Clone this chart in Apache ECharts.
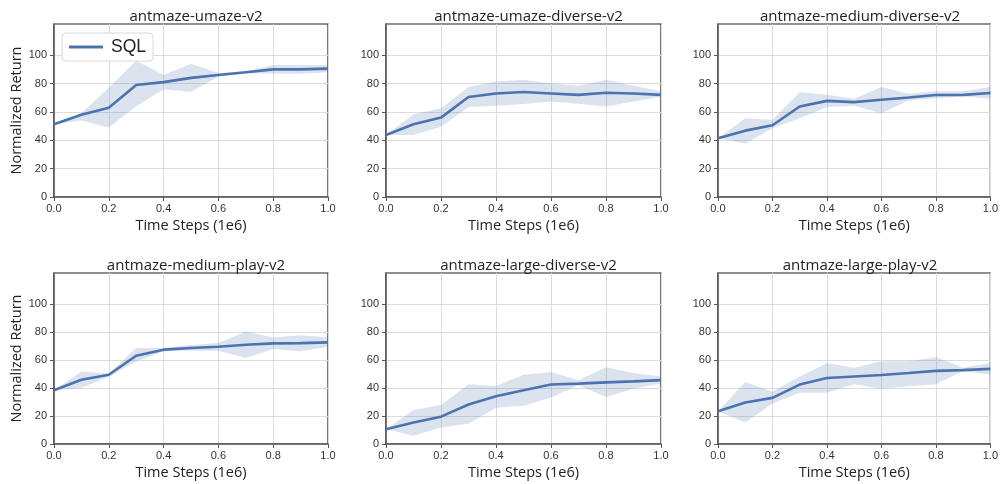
<!DOCTYPE html>
<html>
<head>
<meta charset="utf-8">
<script src="https://cdn.jsdelivr.net/npm/echarts@6/dist/echarts.min.js"></script>
<style>
html,body{margin:0;padding:0;background:#fff;}
#c{width:1001px;height:484px;}
</style>
</head>
<body>
<div id="c"></div>
<script>
// ---- data ----
const steps = [0, 0.1, 0.2, 0.3, 0.4, 0.5, 0.6, 0.7, 0.8, 0.9, 1.0];
const titles = ['antmaze-umaze-v2', 'antmaze-umaze-diverse-v2', 'antmaze-medium-diverse-v2',
                'antmaze-medium-play-v2', 'antmaze-large-diverse-v2', 'antmaze-large-play-v2'];
const seriesName = 'SQL';
const yTicks = [0, 20, 40, 60, 80, 100];

const umazeMean  = [51.3, 58, 63, 79, 81, 84, 86, 88, 90, 90, 90.5];
const umazeUpper = [51.3, 59, 77, 96, 86, 94, 87.5, 88.5, 93, 93, 93];
const umazeLower = [51.3, 54, 49, 64, 76, 74, 85, 87.5, 87, 87, 88];

const umazeDivMean  = [43.7, 51.3, 56, 70.5, 73, 74, 73, 72, 73.5, 73, 72];
const umazeDivUpper = [43.7, 58.4, 62.6, 77.5, 81.5, 82.7, 80, 78.5, 82.7, 78.5, 74.5];
const umazeDivLower = [43.7, 43.7, 49.6, 63.4, 64.3, 65.5, 67.4, 65.7, 63.8, 67.4, 70.5];

const medDivMean  = [41.4, 46.8, 50.6, 63.8, 67.8, 66.9, 68.6, 70.2, 71.9, 72, 73.3];
const medDivUpper = [41.4, 55.5, 54.4, 73.8, 72.1, 69.3, 77.5, 72.8, 74.5, 74.5, 77.5];
const medDivLower = [41.4, 37.8, 48.5, 55.5, 63.4, 64.3, 59.1, 68.1, 69.7, 70.9, 69.3];

const medPlayMean  = [38.4, 45.9, 49.4, 63, 67.3, 68.5, 69.4, 70.8, 71.8, 72, 72.5];
const medPlayUpper = [38.4, 51.8, 50.1, 68.5, 68.5, 70.6, 72, 80.2, 76, 77.6, 76];
const medPlayLower = [38.4, 40, 48.2, 58.8, 66.1, 66.6, 66.6, 61.4, 67.8, 66.1, 69.4];

const largeDivMean  = [10.6, 15.3, 19.5, 28.2, 34.1, 38.4, 42.4, 43.1, 44, 44.7, 45.6];
const largeDivUpper = [10.6, 24.2, 27.8, 42.6, 41.4, 49.4, 51.3, 45.4, 54.8, 50.6, 48.2];
const largeDivLower = [10.6, 5.9, 11.8, 14.4, 25.9, 27.3, 33.2, 41.9, 33.6, 39.5, 43.1];

const largePlayMean  = [23.3, 29.6, 32.9, 42.4, 47.1, 48.2, 49.2, 50.6, 52.2, 52.7, 53.6];
const largePlayUpper = [23.3, 44.2, 37.2, 48.2, 57.6, 54.4, 59.1, 59.1, 61.9, 54.4, 57.6];
const largePlayLower = [23.3, 15.3, 28.9, 36.5, 36.5, 42.6, 39.5, 41.2, 42.6, 52, 49.4];

const means  = [umazeMean, umazeDivMean, medDivMean, medPlayMean, largeDivMean, largePlayMean];
const uppers = [umazeUpper, umazeDivUpper, medDivUpper, medPlayUpper, largeDivUpper, largePlayUpper];
const lowers = [umazeLower, umazeDivLower, medDivLower, medPlayLower, largeDivLower, largePlayLower];

// ---- layout ----
const colLeft = [54, 386, 718];
const colWidth = [274, 275, 274];
const rowTop = [24, 273];
const rowHeight = [173, 171];

const lineColor = '#4c72b0';
const bandColor = 'rgba(76,114,176,0.2)';
const titleFont = '"Open Sans", "DejaVu Sans", sans-serif';
const tickFont = '"Liberation Sans", Arial, sans-serif';

function bandRenderer(lo, up) {
  return function (params, api) {
    if (params.dataIndex !== 0) return null;
    const pts = [];
    for (let k = 0; k < steps.length; k++) pts.push(api.coord([steps[k], up[k]]));
    for (let k = steps.length - 1; k >= 0; k--) pts.push(api.coord([steps[k], lo[k]]));
    return {
      type: 'polygon',
      shape: {points: pts},
      style: {fill: bandColor, stroke: null},
      silent: true
    };
  };
}

const grids = [], xAxes = [], yAxes = [], series = [], titleComps = [];
for (let i = 0; i < 6; i++) {
  const r = Math.floor(i / 3), c = i % 3;
  grids.push({
    left: colLeft[c], top: rowTop[r], width: colWidth[c], height: rowHeight[r],
    show: true, borderColor: '#222', borderWidth: 1.2, backgroundColor: '#fff'
  });
  titleComps.push({
    text: titles[i],
    left: colLeft[c] + colWidth[c] / 2,
    top: rowTop[r] - 20,
    textAlign: 'center',
    textStyle: {fontFamily: titleFont, fontSize: 15, fontWeight: 'normal', color: '#222'}
  });
  xAxes.push({
    type: 'value', gridIndex: i, min: 0, max: 1, interval: 0.2,
    name: 'Time Steps (1e6)', nameLocation: 'middle', nameGap: 21,
    nameTextStyle: {fontFamily: titleFont, fontSize: 14.5, color: '#222'},
    axisLine: {show: true, lineStyle: {color: '#555', width: 1.5}},
    axisTick: {show: true, inside: false, length: 4, lineStyle: {color: '#555', width: 1}},
    axisLabel: {fontFamily: tickFont, fontSize: 11, color: '#333', margin: 6,
                formatter: v => v.toFixed(1)},
    splitLine: {show: true, lineStyle: {color: '#dcdcdc', width: 1}}
  });
  yAxes.push({
    type: 'value', gridIndex: i, min: 0, max: 122, interval: 20,
    name: c === 0 ? 'Normalized Return' : '', nameLocation: 'middle', nameGap: 29,
    nameTextStyle: {fontFamily: titleFont, fontSize: 14.5, color: '#222'},
    axisLine: {show: true, lineStyle: {color: '#555', width: 1.5}},
    axisTick: {show: true, inside: false, length: 4, customValues: yTicks, lineStyle: {color: '#555', width: 1}},
    axisLabel: {fontFamily: tickFont, fontSize: 11, color: '#333', margin: 7, customValues: yTicks,
                formatter: v => (v <= 100 ? String(v) : '')},
    splitLine: {show: true, lineStyle: {color: ['#dcdcdc', '#dcdcdc', '#dcdcdc', '#dcdcdc', '#dcdcdc', '#dcdcdc', 'transparent', 'transparent'], width: 1}}
  });
  const lo = lowers[i], up = uppers[i], mn = means[i];
  series.push({
    name: 'band' + i, type: 'custom', xAxisIndex: i, yAxisIndex: i,
    data: steps.map((x, k) => [x, lo[k], up[k]]),
    encode: {x: 0, y: [1, 2]},
    renderItem: bandRenderer(lo, up), silent: true, z: 1
  });
  series.push({
    name: seriesName, type: 'line', xAxisIndex: i, yAxisIndex: i,
    data: steps.map((x, k) => [x, mn[k]]), symbol: 'none',
    lineStyle: {color: lineColor, width: 2.6}, itemStyle: {color: lineColor}, z: 3
  });
}

const chart = echarts.init(document.getElementById('c'), null, {renderer: 'canvas'});
chart.setOption({
  animation: false,
  backgroundColor: '#fff',
  title: titleComps,
  grid: grids,
  xAxis: xAxes,
  yAxis: yAxes,
  legend: {
    data: [{name: seriesName, icon: 'rect'}], left: 62, top: 33,
    itemWidth: 34, itemHeight: 3, itemGap: 8,
    padding: [5, 7, 5, 7],
    borderColor: '#d8d8d8', borderWidth: 1, borderRadius: 4, backgroundColor: '#fff',
    textStyle: {fontFamily: tickFont, fontSize: 17.5, color: '#222', padding: [0, 0, 0, 3]}
  },
  series: series
});
</script>
</body>
</html>
